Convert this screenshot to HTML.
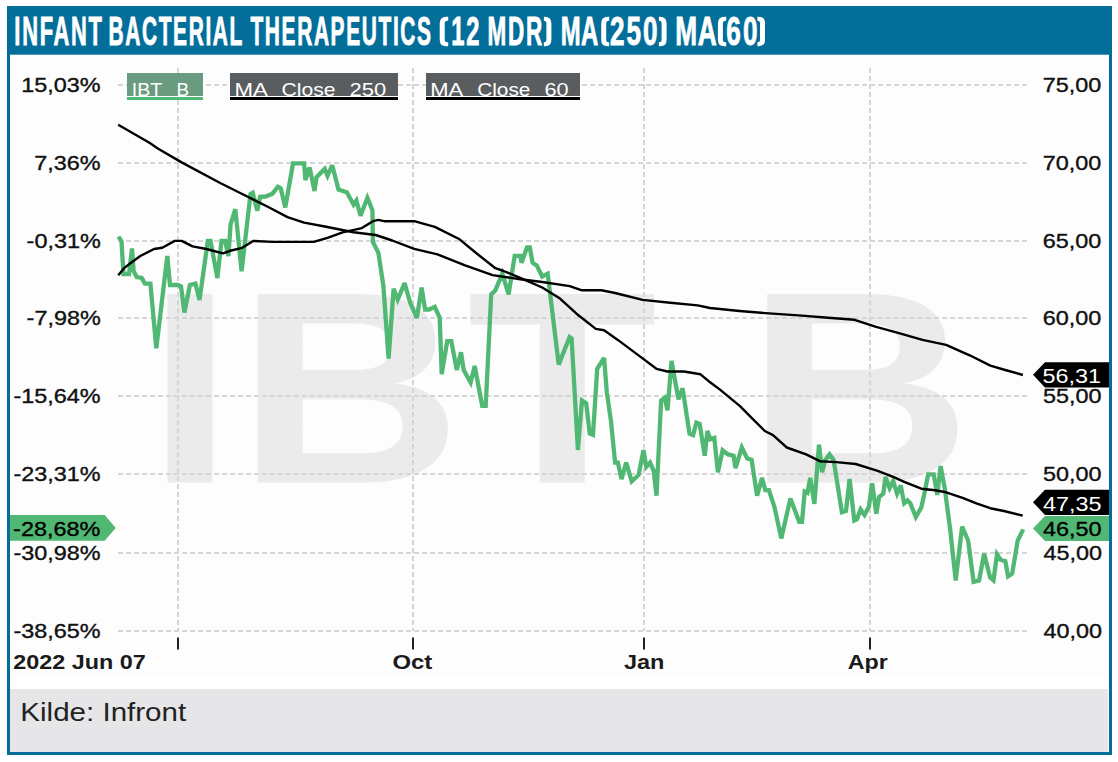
<!DOCTYPE html>
<html><head><meta charset="utf-8"><style>
html,body{margin:0;padding:0;background:#fff;width:1118px;height:762px;overflow:hidden;position:relative}
</style></head><body>
<svg width="1118" height="762" viewBox="0 0 1118 762" style="position:absolute;left:0;top:0">
<rect x="7" y="6" width="1105" height="48.7" fill="#036e99"/>
<rect x="7" y="54" width="3" height="701" fill="#036e99"/>
<rect x="1109" y="54" width="3" height="701" fill="#036e99"/>
<rect x="7" y="752" width="1105" height="3" fill="#036e99"/>
<rect x="10" y="57" width="1099" height="619" fill="#fdfdfd"/>
<rect x="10" y="689" width="1098" height="63" fill="#e6e6e8"/>
<text transform="translate(146.60,482.60) scale(1.1380,1)" font-family='"Liberation Sans", sans-serif' font-size="274" font-weight="bold" fill="#ebebeb">I</text>
<text transform="translate(236.80,482.60) scale(1.1380,1)" font-family='"Liberation Sans", sans-serif' font-size="274" font-weight="bold" fill="#ebebeb">B</text>
<text transform="translate(467.00,482.60) scale(1.1380,1)" font-family='"Liberation Sans", sans-serif' font-size="274" font-weight="bold" fill="#ebebeb">T</text>
<text transform="translate(746.40,482.60) scale(1.1380,1)" font-family='"Liberation Sans", sans-serif' font-size="274" font-weight="bold" fill="#ebebeb">B</text>
<line x1="118" y1="85" x2="1027" y2="85" stroke="#d6d6d6" stroke-width="2" stroke-dasharray="5 3"/>
<line x1="118" y1="163" x2="1027" y2="163" stroke="#d6d6d6" stroke-width="2" stroke-dasharray="5 3"/>
<line x1="118" y1="241" x2="1027" y2="241" stroke="#d6d6d6" stroke-width="2" stroke-dasharray="5 3"/>
<line x1="118" y1="318" x2="1027" y2="318" stroke="#d6d6d6" stroke-width="2" stroke-dasharray="5 3"/>
<line x1="118" y1="396" x2="1027" y2="396" stroke="#d6d6d6" stroke-width="2" stroke-dasharray="5 3"/>
<line x1="118" y1="474" x2="1027" y2="474" stroke="#d6d6d6" stroke-width="2" stroke-dasharray="5 3"/>
<line x1="118" y1="553" x2="1027" y2="553" stroke="#d6d6d6" stroke-width="2" stroke-dasharray="5 3"/>
<line x1="118" y1="631" x2="1027" y2="631" stroke="#d6d6d6" stroke-width="2" stroke-dasharray="5 3"/>
<line x1="178" y1="68" x2="178" y2="631" stroke="#d6d6d6" stroke-width="2" stroke-dasharray="5 3"/>
<line x1="178" y1="637.6" x2="178" y2="649.4" stroke="#222" stroke-width="2"/>
<line x1="413" y1="68" x2="413" y2="631" stroke="#d6d6d6" stroke-width="2" stroke-dasharray="5 3"/>
<line x1="413" y1="637.6" x2="413" y2="649.4" stroke="#222" stroke-width="2"/>
<line x1="644" y1="68" x2="644" y2="631" stroke="#d6d6d6" stroke-width="2" stroke-dasharray="5 3"/>
<line x1="644" y1="637.6" x2="644" y2="649.4" stroke="#222" stroke-width="2"/>
<line x1="870" y1="68" x2="870" y2="631" stroke="#d6d6d6" stroke-width="2" stroke-dasharray="5 3"/>
<line x1="870" y1="637.6" x2="870" y2="649.4" stroke="#222" stroke-width="2"/>
<path d="M118.5 236.5 L121.5 241.5 L123.5 274.0 L129.0 274.0 L132.0 248.5 L133.6 271.0 L136.7 277.0 L141.7 278.0 L144.9 283.6 L150.4 283.6 L156.3 348.3 L167.3 256.0 L170.0 285.0 L177.5 285.0 L181.0 286.3 L184.4 312.5 L189.9 285.0 L195.4 283.6 L199.5 300.0 L207.8 240.9 L210.5 240.9 L217.4 278.0 L221.5 240.9 L225.1 240.9 L228.4 256.0 L230.6 224.4 L235.3 209.2 L241.6 271.2 L250.5 194.0 L252.7 192.7 L257.3 210.6 L260.1 196.8 L265.5 196.5 L272.4 193.7 L277.9 186.8 L280.7 188.2 L285.3 207.5 L293.0 163.4 L304.1 163.4 L305.4 180.0 L309.6 167.5 L314.5 191.0 L316.5 177.2 L324.7 168.9 L327.5 175.8 L332.2 165.3 L338.5 189.6 L346.8 192.3 L353.6 204.7 L356.4 200.6 L360.5 215.7 L367.4 197.8 L372.4 210.2 L372.9 241.9 L378.4 252.9 L383.4 286.0 L388.6 358.5 L393.6 288.7 L397.7 299.7 L404.6 283.2 L410.1 302.5 L416.9 317.8 L421.6 287.5 L425.1 309.5 L429.3 309.5 L434.8 306.8 L439.7 317.8 L441.7 374.2 L447.2 341.2 L451.3 341.2 L456.8 370.1 L461.0 352.2 L463.7 370.1 L470.6 382.5 L474.7 366.0 L482.2 405.9 L485.7 405.9 L491.2 294.4 L495.4 290.2 L502.3 273.7 L508.6 294.4 L514.7 255.8 L520.2 255.8 L521.5 262.7 L527.0 247.5 L529.8 247.5 L532.6 262.7 L536.7 265.4 L542.2 276.5 L547.7 273.7 L558.7 364.6 L569.6 337.1 L571.6 338.5 L577.9 450.0 L582.0 400.5 L586.2 403.2 L589.7 433.5 L593.0 434.9 L597.2 368.8 L604.1 357.8 L606.8 392.2 L611.0 421.3 L615.1 462.6 L617.9 462.6 L621.5 479.1 L626.2 462.6 L631.7 481.3 L638.6 475.0 L643.5 450.2 L646.3 466.8 L650.1 462.6 L653.7 470.9 L656.5 495.7 L661.1 400.7 L664.7 397.9 L667.5 410.3 L671.5 361.0 L678.5 399.3 L682.6 388.3 L689.5 433.7 L693.1 435.1 L696.4 422.7 L699.7 424.1 L704.7 455.7 L707.4 431.0 L710.2 439.2 L714.3 437.8 L717.9 472.3 L722.6 450.2 L728.1 454.4 L733.6 455.7 L735.5 468.1 L741.8 447.5 L747.3 458.5 L751.6 459.9 L757.1 495.7 L762.0 477.8 L765.3 490.2 L768.9 490.2 L774.4 506.7 L781.3 538.4 L790.4 498.4 L799.2 521.8 L802.0 521.8 L804.7 491.5 L807.5 492.9 L810.2 477.8 L814.4 503.9 L819.0 444.7 L822.1 472.3 L825.4 459.9 L829.5 454.4 L833.6 459.9 L841.9 512.2 L846.0 510.8 L849.6 479.1 L854.3 520.5 L857.0 519.1 L860.6 509.4 L864.5 515.0 L868.9 506.7 L872.2 483.3 L876.3 513.6 L879.1 497.0 L883.3 493.6 L885.5 477.1 L889.6 488.1 L893.2 481.2 L897.1 493.6 L900.7 485.4 L904.2 503.3 L907.5 500.5 L910.3 503.3 L915.8 517.0 L921.3 507.4 L924.1 495.0 L928.2 474.4 L933.7 474.4 L937.3 495.0 L940.6 466.1 L944.7 488.1 L950.2 529.4 L955.7 580.4 L962.1 526.7 L968.1 540.5 L973.6 581.8 L979.1 580.4 L984.1 553.7 L990.2 577.6 L993.5 580.4 L997.0 554.2 L1000.6 559.7 L1005.3 561.1 L1008.1 576.3 L1012.2 573.5 L1017.7 540.5 L1023.2 529.4" fill="none" stroke="#50b873" stroke-width="4.3" stroke-linejoin="miter" stroke-miterlimit="3"/>
<path d="M118.2 124.8 L149.4 142.8 L158.2 148.8 L181.6 162.4 L220.2 183.0 L247.7 196.8 L269.7 207.8 L287.5 217.1 L304.1 222.6 L326.1 226.8 L353.6 232.3 L375.7 235.0 L392.2 240.5 L414.2 248.8 L437.5 254.4 L465.1 265.4 L492.6 275.1 L520.2 279.2 L542.2 282.0 L569.7 286.1 L582.0 290.3 L601.3 290.3 L615.1 293.0 L642.6 299.9 L670.2 302.7 L697.7 305.4 L710.0 308.0 L739.5 311.0 L769.0 313.4 L798.5 315.4 L828.1 317.8 L854.6 319.8 L875.3 326.6 L898.9 333.1 L922.5 339.9 L946.1 344.9 L969.7 355.3 L990.4 365.6 L1005.2 370.0 L1022.9 375.0" fill="none" stroke="#000" stroke-width="2.4" stroke-linejoin="round"/>
<path d="M118.3 275.3 L123.8 268.4 L130.7 263.0 L140.3 256.0 L154.0 249.0 L162.3 247.8 L174.7 240.9 L181.6 240.9 L192.6 246.4 L206.4 249.0 L222.9 253.3 L231.2 250.5 L242.2 247.8 L253.2 240.9 L272.4 241.9 L313.7 241.9 L327.5 237.8 L342.6 232.3 L361.9 228.1 L372.9 221.2 L378.4 219.9 L383.9 221.2 L414.2 221.2 L434.8 226.9 L459.6 239.3 L476.1 253.0 L495.4 268.2 L503.6 271.0 L520.2 277.8 L542.2 287.5 L560.0 298.6 L576.5 313.7 L595.8 328.9 L604.1 330.2 L617.8 339.9 L639.9 356.4 L656.4 368.8 L667.4 371.5 L683.9 371.5 L700.5 374.3 L708.7 381.2 L719.7 389.4 L740.0 406.2 L752.4 418.6 L764.8 431.0 L773.0 435.1 L786.8 447.5 L806.1 454.4 L819.9 461.2 L836.4 462.1 L855.7 464.0 L877.7 470.9 L893.8 477.1 L904.8 482.1 L921.3 488.7 L935.1 490.3 L946.1 492.3 L962.6 497.8 L976.4 503.3 L990.2 508.2 L1003.9 511.0 L1022.7 515.7" fill="none" stroke="#000" stroke-width="2.4" stroke-linejoin="round"/>
<polygon points="1033,374.8 1045,362.2 1109,362.2 1109,387.40000000000003 1045,387.40000000000003" fill="#000"/>
<polygon points="1033,502.3 1045,489.7 1109,489.7 1109,514.9 1045,514.9" fill="#000"/>
<polygon points="1033,528.5 1045,515.9 1109,515.9 1109,541.1 1045,541.1" fill="#50b873"/>
<polygon points="10,515.1 104.7,515.1 115.7,528 104.7,540.7 10,540.7" fill="#50b873"/>
<text transform="translate(21.32,91.80) scale(1.2000,1)" font-family='"Liberation Sans", sans-serif' font-size="19.5" fill="#111" stroke="#111" stroke-width="0.35">15,03%</text>
<text transform="translate(34.28,169.80) scale(1.2000,1)" font-family='"Liberation Sans", sans-serif' font-size="19.5" fill="#111" stroke="#111" stroke-width="0.35">7,36%</text>
<text transform="translate(26.60,247.80) scale(1.2000,1)" font-family='"Liberation Sans", sans-serif' font-size="19.5" fill="#111" stroke="#111" stroke-width="0.35">-0,31%</text>
<text transform="translate(26.60,324.80) scale(1.2000,1)" font-family='"Liberation Sans", sans-serif' font-size="19.5" fill="#111" stroke="#111" stroke-width="0.35">-7,98%</text>
<text transform="translate(13.52,402.80) scale(1.2000,1)" font-family='"Liberation Sans", sans-serif' font-size="19.5" fill="#111" stroke="#111" stroke-width="0.35">-15,64%</text>
<text transform="translate(13.52,480.80) scale(1.2000,1)" font-family='"Liberation Sans", sans-serif' font-size="19.5" fill="#111" stroke="#111" stroke-width="0.35">-23,31%</text>
<text transform="translate(13.52,559.80) scale(1.2000,1)" font-family='"Liberation Sans", sans-serif' font-size="19.5" fill="#111" stroke="#111" stroke-width="0.35">-30,98%</text>
<text transform="translate(13.52,637.80) scale(1.2000,1)" font-family='"Liberation Sans", sans-serif' font-size="19.5" fill="#111" stroke="#111" stroke-width="0.35">-38,65%</text>
<text transform="translate(13.12,536.10) scale(1.2000,1)" font-family='"Liberation Sans", sans-serif' font-size="19.5" fill="#000" stroke="#000" stroke-width="0.35">-28,68%</text>
<text transform="translate(1042.80,91.80) scale(1.2000,1)" font-family='"Liberation Sans", sans-serif' font-size="19.5" fill="#111" stroke="#111" stroke-width="0.35">75,00</text>
<text transform="translate(1042.80,169.80) scale(1.2000,1)" font-family='"Liberation Sans", sans-serif' font-size="19.5" fill="#111" stroke="#111" stroke-width="0.35">70,00</text>
<text transform="translate(1042.80,247.80) scale(1.2000,1)" font-family='"Liberation Sans", sans-serif' font-size="19.5" fill="#111" stroke="#111" stroke-width="0.35">65,00</text>
<text transform="translate(1042.80,324.80) scale(1.2000,1)" font-family='"Liberation Sans", sans-serif' font-size="19.5" fill="#111" stroke="#111" stroke-width="0.35">60,00</text>
<text transform="translate(1043.04,402.80) scale(1.2000,1)" font-family='"Liberation Sans", sans-serif' font-size="19.5" fill="#111" stroke="#111" stroke-width="0.35">55,00</text>
<text transform="translate(1043.04,480.80) scale(1.2000,1)" font-family='"Liberation Sans", sans-serif' font-size="19.5" fill="#111" stroke="#111" stroke-width="0.35">50,00</text>
<text transform="translate(1043.52,559.80) scale(1.2000,1)" font-family='"Liberation Sans", sans-serif' font-size="19.5" fill="#111" stroke="#111" stroke-width="0.35">45,00</text>
<text transform="translate(1043.52,637.80) scale(1.2000,1)" font-family='"Liberation Sans", sans-serif' font-size="19.5" fill="#111" stroke="#111" stroke-width="0.35">40,00</text>
<text transform="translate(1042.54,383.40) scale(1.2000,1)" font-family='"Liberation Sans", sans-serif' font-size="19.5" fill="#fff" stroke="#fff" stroke-width="0">56,31</text>
<text transform="translate(1043.02,511.20) scale(1.2000,1)" font-family='"Liberation Sans", sans-serif' font-size="19.5" fill="#fff" stroke="#fff" stroke-width="0">47,35</text>
<text transform="translate(1043.02,536.00) scale(1.2000,1)" font-family='"Liberation Sans", sans-serif' font-size="19.5" fill="#000" stroke="#000" stroke-width="0.35">46,50</text>
<text transform="translate(13.18,668.80) scale(1.1699,1)" font-family='"Liberation Sans", sans-serif' font-size="20" font-weight="bold" fill="#1a1a1a">2022 Jun 07</text>
<text transform="translate(392.44,668.80) scale(1.1950,1)" font-family='"Liberation Sans", sans-serif' font-size="20" font-weight="bold" fill="#1a1a1a">Oct</text>
<text transform="translate(623.95,668.80) scale(1.1763,1)" font-family='"Liberation Sans", sans-serif' font-size="20" font-weight="bold" fill="#1a1a1a">Jan</text>
<text transform="translate(847.82,668.80) scale(1.1632,1)" font-family='"Liberation Sans", sans-serif' font-size="20" font-weight="bold" fill="#1a1a1a">Apr</text>
<rect x="127" y="73" width="76" height="23" fill="#6a9b80"/>
<rect x="127" y="96" width="76" height="1" fill="#fff"/>
<rect x="127" y="97" width="76" height="3" fill="#50b873"/>
<rect x="230" y="73" width="168" height="23" fill="#5a5d60"/>
<rect x="230" y="96" width="168" height="1" fill="#fff"/>
<rect x="230" y="97" width="168" height="3" fill="#000"/>
<rect x="426" y="73" width="154" height="23" fill="#5a5d60"/>
<rect x="426" y="96" width="154" height="1" fill="#fff"/>
<rect x="426" y="97" width="154" height="3" fill="#000"/>
<text transform="translate(131.85,96.00) scale(1.0292,1)" font-family='"Liberation Sans", sans-serif' font-size="19" fill="#fff">IBT</text>
<text transform="translate(176.42,96.00) scale(0.9901,1)" font-family='"Liberation Sans", sans-serif' font-size="19" fill="#fff">B</text>
<text transform="translate(234.43,96.00) scale(1.1716,1)" font-family='"Liberation Sans", sans-serif' font-size="19" fill="#fff">MA</text>
<text transform="translate(281.49,96.00) scale(1.1113,1)" font-family='"Liberation Sans", sans-serif' font-size="19" fill="#fff">Close</text>
<text transform="translate(349.44,96.00) scale(1.1572,1)" font-family='"Liberation Sans", sans-serif' font-size="19" fill="#fff">250</text>
<text transform="translate(430.15,96.00) scale(1.1567,1)" font-family='"Liberation Sans", sans-serif' font-size="19" fill="#fff">MA</text>
<text transform="translate(477.20,96.00) scale(1.0964,1)" font-family='"Liberation Sans", sans-serif' font-size="19" fill="#fff">Close</text>
<text transform="translate(544.46,96.00) scale(1.1443,1)" font-family='"Liberation Sans", sans-serif' font-size="19" fill="#fff">60</text>
<text transform="translate(14.35,45.40) scale(0.5320,1)" font-family='"Liberation Sans", sans-serif' font-size="41.2" font-weight="bold" fill="#fff" stroke="#fff" stroke-width="0.9" letter-spacing="3.2">INFANT</text>
<text transform="translate(108.41,45.40) scale(0.5083,1)" font-family='"Liberation Sans", sans-serif' font-size="41.2" font-weight="bold" fill="#fff" stroke="#fff" stroke-width="0.9" letter-spacing="3.2">BACTERIAL</text>
<text transform="translate(250.47,45.40) scale(0.5078,1)" font-family='"Liberation Sans", sans-serif' font-size="41.2" font-weight="bold" fill="#fff" stroke="#fff" stroke-width="0.9" letter-spacing="3.2">THERAPEUTICS</text>
<path d="M8.5 16.7 L6.5 16.7 Q0 16.7 0 23.2 L0 39.7 Q0 46.2 6.5 46.2 L8.5 46.2 L8.5 42.2 L7.5 42.2 Q5.0 42.2 5.0 39.7 L5.0 23.2 Q5.0 20.7 7.5 20.7 L8.5 20.7 Z" transform="translate(439.7,0)" fill="#fff"/>
<text transform="translate(451.26,45.40) scale(0.5755,1)" font-family='"Liberation Sans", sans-serif' font-size="41.2" font-weight="bold" fill="#fff" stroke="#fff" stroke-width="0.9" letter-spacing="3.2">12</text>
<text transform="translate(487.52,45.40) scale(0.5456,1)" font-family='"Liberation Sans", sans-serif' font-size="41.2" font-weight="bold" fill="#fff" stroke="#fff" stroke-width="0.9" letter-spacing="3.2">MDR</text>
<path d="M7.5 16.7 L6.5 16.7 Q0 16.7 0 23.2 L0 39.7 Q0 46.2 6.5 46.2 L7.5 46.2 L7.5 42.2 L7.5 42.2 Q5.0 42.2 5.0 39.7 L5.0 23.2 Q5.0 20.7 7.5 20.7 L7.5 20.7 Z" transform="translate(551.4,0) scale(-1,1)" fill="#fff"/>
<text transform="translate(560.64,45.40) scale(0.5790,1)" font-family='"Liberation Sans", sans-serif' font-size="41.2" font-weight="bold" fill="#fff" stroke="#fff" stroke-width="0.9" letter-spacing="1.0">MA</text>
<path d="M8.0 16.7 L6.5 16.7 Q0 16.7 0 23.2 L0 39.7 Q0 46.2 6.5 46.2 L8.0 46.2 L8.0 42.2 L7.5 42.2 Q5.0 42.2 5.0 39.7 L5.0 23.2 Q5.0 20.7 7.5 20.7 L8.0 20.7 Z" transform="translate(601.2,0)" fill="#fff"/>
<text transform="translate(609.90,45.40) scale(0.6337,1)" font-family='"Liberation Sans", sans-serif' font-size="41.2" font-weight="bold" fill="#fff" stroke="#fff" stroke-width="0.9" letter-spacing="3.2">250</text>
<path d="M7.7000000000000455 16.7 L6.5 16.7 Q0 16.7 0 23.2 L0 39.7 Q0 46.2 6.5 46.2 L7.7000000000000455 46.2 L7.7000000000000455 42.2 L7.5 42.2 Q5.0 42.2 5.0 39.7 L5.0 23.2 Q5.0 20.7 7.5 20.7 L7.7000000000000455 20.7 Z" transform="translate(666.6,0) scale(-1,1)" fill="#fff"/>
<text transform="translate(675.30,45.40) scale(0.6371,1)" font-family='"Liberation Sans", sans-serif' font-size="41.2" font-weight="bold" fill="#fff" stroke="#fff" stroke-width="0.9" letter-spacing="1.0">MA</text>
<path d="M8.300000000000068 16.7 L6.5 16.7 Q0 16.7 0 23.2 L0 39.7 Q0 46.2 6.5 46.2 L8.300000000000068 46.2 L8.300000000000068 42.2 L7.5 42.2 Q5.0 42.2 5.0 39.7 L5.0 23.2 Q5.0 20.7 7.5 20.7 L8.300000000000068 20.7 Z" transform="translate(717.9,0)" fill="#fff"/>
<text transform="translate(726.33,45.40) scale(0.6338,1)" font-family='"Liberation Sans", sans-serif' font-size="41.2" font-weight="bold" fill="#fff" stroke="#fff" stroke-width="0.9" letter-spacing="3.2">60</text>
<path d="M7.600000000000023 16.7 L6.5 16.7 Q0 16.7 0 23.2 L0 39.7 Q0 46.2 6.5 46.2 L7.600000000000023 46.2 L7.600000000000023 42.2 L7.5 42.2 Q5.0 42.2 5.0 39.7 L5.0 23.2 Q5.0 20.7 7.5 20.7 L7.600000000000023 20.7 Z" transform="translate(765,0) scale(-1,1)" fill="#fff"/>
<text transform="translate(20.31,721.40) scale(1.1365,1)" font-family='"Liberation Sans", sans-serif' font-size="26" fill="#222">Kilde: Infront</text>
</svg>
</body></html>
